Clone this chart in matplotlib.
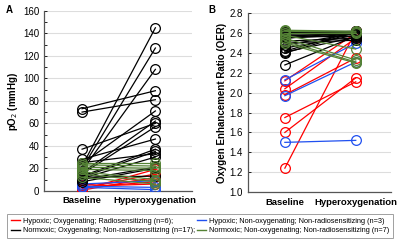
import matplotlib
matplotlib.use("Agg")
from matplotlib import pyplot as plt
from matplotlib.lines import Line2D
from matplotlib.ticker import MultipleLocator

plt.rcParams['font.family'] = ['Liberation Sans', 'DejaVu Sans']

groups = ['Hypoxic; Oxygenating; Radiosensitizing (n=6);',
          'Hypoxic; Non-oxygenating; Non-radiosensitizing (n=3)',
          'Normoxic; Oxygenating; Non-radiosensitizing (n=17);',
          'Normoxic; Non-oxygenating; Non-radiosensitizing (n=7)']
colors = ['#ff0000', '#2050f0', '#000000', '#548235']
categories = ['Baseline', 'Hyperoxygenation']

# pO2 (mmHg): baseline / hyperoxygenation per group
po2_base = [
    [1, 2, 3, 4, 0.5, 5],
    [6, 4, 3],
    [73, 70, 37, 22, 20, 18, 24, 16, 15, 28, 13, 12, 25, 11, 10, 8, 12],
    [25, 23, 21, 19, 17, 15, 12],
]
po2_hyper = [
    [19, 15, 8, 6, 12, 10],
    [9, 3, 1],
    [89, 81, 60, 145, 127, 108, 71, 62, 57, 46, 37, 35, 33, 30, 21, 20, 13],
    [25, 22, 20, 18, 10, 8, 6],
]

# OER
oer_base = [
    [2.12, 2.04, 1.98, 1.75, 1.60, 1.24],
    [2.13, 1.97, 1.50],
    [2.62, 2.61, 2.60, 2.59, 2.58, 2.57, 2.56, 2.55, 2.52, 2.50, 2.48, 2.45,
     2.42, 2.41, 2.40, 2.28, 2.55],
    [2.63, 2.62, 2.60, 2.58, 2.55, 2.52, 2.50],
]
oer_hyper = [
    [2.60, 2.55, 2.35, 2.11, 2.15, 2.62],
    [2.50, 2.31, 1.52],
    [2.62, 2.61, 2.60, 2.62, 2.59, 2.60, 2.57, 2.61, 2.55, 2.53, 2.60, 2.58,
     2.62, 2.56, 2.61, 2.57, 2.59],
    [2.62, 2.61, 2.60, 2.44, 2.33, 2.31, 2.30],
]

fig = plt.figure(figsize=(4.0, 2.43), dpi=100)
axA = fig.add_axes([0.11, 0.215, 0.37, 0.74])
axB = fig.add_axes([0.62, 0.21, 0.358, 0.735])


def draw(ax, base, hyper):
    for g in range(len(groups)):
        for b, h in zip(base[g], hyper[g]):
            ax.plot([0, 1], [b, h], color=colors[g], lw=0.9, marker='o',
                    markersize=7, markerfacecolor='none',
                    markeredgewidth=0.9, zorder=3)
    ax.set_xlim(-0.52, 1.5)
    ax.set_xticks([0, 1])
    ax.set_xticklabels(categories, fontsize=6.8, fontweight='bold')
    ax.tick_params(axis='x', length=0, pad=4)
    ax.tick_params(axis='y', which='both', direction='in', labelsize=7,
                   length=2.5, width=0.6)
    ax.yaxis.grid(True, color='#dddddd', lw=0.8)
    ax.set_axisbelow(True)
    for s in ['top', 'right']:
        ax.spines[s].set_visible(False)
    for s in ['left', 'bottom']:
        ax.spines[s].set_color('#555555')
        ax.spines[s].set_linewidth(0.9)


draw(axA, po2_base, po2_hyper)
axA.set_ylim(0, 160)
axA.yaxis.set_major_locator(MultipleLocator(20))
axA.yaxis.set_minor_locator(MultipleLocator(10))
axA.set_ylabel('pO$_2$ (mmHg)', fontsize=7, fontweight='bold', labelpad=2)

draw(axB, oer_base, oer_hyper)
axB.set_ylim(1.0, 2.8)
axB.yaxis.set_major_locator(MultipleLocator(0.2))
axB.set_ylabel('Oxygen Enhancement Ratio (OER)', fontsize=7,
               fontweight='bold', labelpad=2)

fig.text(0.015, 0.945, 'A', fontsize=7, fontweight='bold')
fig.text(0.522, 0.945, 'B', fontsize=7, fontweight='bold')

# legend fills column-wise: reorder so rows read red/blue, black/green
order = [0, 2, 1, 3]
handles = [Line2D([], [], color=colors[i], lw=1) for i in order]
labels = [groups[i] for i in order]
leg = fig.legend(handles, labels, loc='lower center', ncol=2,
                 bbox_to_anchor=(0.5, 0.005), fontsize=5.3, frameon=True,
                 fancybox=False, handlelength=1.2, handletextpad=0.4,
                 columnspacing=0.3, labelspacing=0.35, borderpad=0.5)
leg.get_frame().set_edgecolor('#888888')
leg.get_frame().set_linewidth(0.7)

fig.savefig('out.png', dpi=100)
